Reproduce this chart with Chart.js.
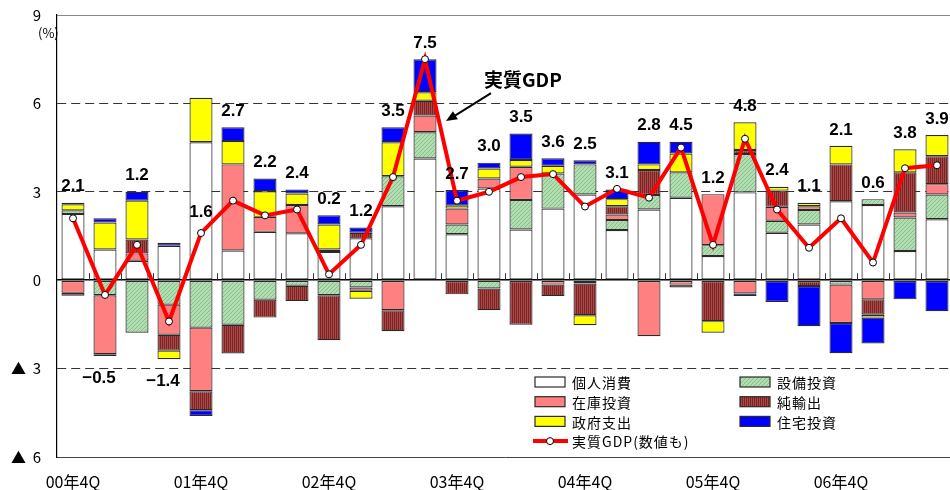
<!DOCTYPE html>
<html lang="ja">
<head>
<meta charset="utf-8">
<title>実質GDP成長率と需要項目別寄与度</title>
<script src="https://cdn.jsdelivr.net/npm/chart.js@4"></script>
<style>
    html, body { margin: 0; padding: 0; background: #fff; overflow: hidden; }
    #wrap { width: 958px; height: 490px; }
</style>
</head>
<body>
<div id="wrap"><canvas id="gdpChart" width="958" height="490"></canvas></div>
<script>
// Quarters (only the 4Q ones get a label on the axis)
const quarters = [
    '00年4Q', '01年1Q', '01年2Q', '01年3Q', '01年4Q', '02年1Q', '02年2Q',
    '02年3Q', '02年4Q', '03年1Q', '03年2Q', '03年3Q', '03年4Q', '04年1Q',
    '04年2Q', '04年3Q', '04年4Q', '05年1Q', '05年2Q', '05年3Q', '05年4Q',
    '06年1Q', '06年2Q', '06年3Q', '06年4Q', '07年1Q', '07年2Q', '07年3Q'
];

// Contributions by demand component (% points)
const consumption = [2.25, 1.04, 0.66, 1.17, 4.68, 1.01, 1.64, 1.59, 0.96, 1.42, 2.51, 4.13, 1.56, 3.11,
                     1.72, 2.43, 2.91, 1.70, 2.40, 2.80, 0.82, 2.98, 1.61, 1.89, 2.68, 2.55, 0.99, 2.07];
const capex       = [0.12, -0.51, -1.78, -0.83, -1.61, -1.51, -0.66, -0.19, -0.51, -0.25, 1.02, 0.89, 0.33, -0.28,
                     1.00, 1.19, 1.02, 0.34, 0.49, 0.86, 0.37, 1.30, 0.41, 0.49, -0.15, 0.20, 1.14, 0.84];
const inventory   = [-0.43, -2.00, 0.25, -1.02, -2.16, 2.92, 0.51, 0.96, 0.08, -0.11, -1.02, 0.57, 0.54, 0.34,
                     1.13, -0.15, -0.11, 0.19, -1.90, -0.15, 1.73, -0.45, 0.47, 0.13, -1.30, -0.65, 0.17, 0.35];
const netExports  = [-0.10, -0.06, 0.47, -0.54, -0.64, -0.98, -0.61, -0.52, -1.53, 0.19, -0.71, 0.50, -0.48, -0.74,
                     -1.51, -0.39, -1.08, 0.28, 0.85, -0.10, -1.39, 0.14, 0.55, -0.20, 1.25, -0.52, 1.36, 0.95];
const government  = [0.21, 0.92, 1.32, -0.29, 1.51, 0.79, 0.87, 0.39, 0.85, -0.27, 1.15, 0.29, 0.10, 0.34,
                     0.23, 0.26, -0.34, 0.24, 0.19, 0.64, -0.39, 0.94, 0.13, 0.12, 0.63, -0.10, 0.78, 0.72];
const housing     = [0.05, 0.14, 0.30, 0.10, -0.20, 0.47, 0.43, 0.14, 0.31, 0.18, 0.51, 1.12, 0.53, 0.20,
                     0.90, 0.26, 0.14, 0.33, 0.77, 0.40, 0.00, -0.09, -0.74, -1.36, -1.03, -0.88, -0.65, -1.05];

// Real GDP growth (annualised, %)
const realGdp = [2.1, -0.5, 1.2, -1.4, 1.6, 2.7, 2.2, 2.4, 0.2, 1.2, 3.5, 7.5, 2.7, 3.0,
                 3.5, 3.6, 2.5, 3.1, 2.8, 4.5, 1.2, 4.8, 2.4, 1.1, 2.1, 0.6, 3.8, 3.9];

const yTicks = [-6, -3, 0, 3, 6, 9];

const components = [consumption, capex, inventory, netExports, government, housing];

const JP_FONT = '"Noto Sans CJK JP", "Noto Sans", sans-serif';
const NUM_FONT = '"Liberation Sans", Arial, sans-serif';

// Small canvas patterns for the hatched bars
function makePattern(bg, fg, kind) {
    const c = document.createElement('canvas');
    c.width = 4;
    c.height = 4;
    const p = c.getContext('2d');
    p.fillStyle = bg;
    p.fillRect(0, 0, 4, 4);
    p.fillStyle = fg;
    p.strokeStyle = fg;
    if (kind === 'diag') {
        p.lineWidth = 1;
        p.beginPath();
        p.moveTo(0, 4);
        p.lineTo(4, 0);
        p.stroke();
    } else {
        p.fillRect(0, 0, 1, 4);
        p.fillRect(2, 0, 1, 4);
    }
    return p.createPattern(c, 'repeat');
}

const greenHatch = makePattern('#b2dcb2', '#86c086', 'diag');
const redStripe = makePattern('#a84848', '#7a2424', 'vert');

function barSet(label, data, color) {
    return {
        type: 'bar',
        label: label,
        data: data,
        backgroundColor: color,
        borderColor: '#2a2a2a',
        borderWidth: 1.2,
        borderSkipped: false,
        barPercentage: 0.72,
        categoryPercentage: 1,
        order: 1
    };
}

// Zero line tick marks between quarters
const zeroTicks = {
    id: 'zeroTicks',
    beforeDatasetsDraw(chart) {
        const { ctx, scales: { x, y } } = chart;
        const y0 = y.getPixelForValue(0);
        const half = (x.getPixelForValue(1) - x.getPixelForValue(0)) / 2;
        ctx.save();
        ctx.strokeStyle = '#333';
        ctx.lineWidth = 1;
        for (let i = 1; i < quarters.length; i++) {
            const px = Math.round(x.getPixelForValue(i) - half) + 0.5;
            ctx.beginPath();
            ctx.moveTo(px, y0);
            ctx.lineTo(px, y0 - 7);
            ctx.stroke();
        }
        ctx.restore();
    }
};

// GDP value labels, unit label, callout and legend
const annotations = {
    id: 'annotations',
    afterDatasetsDraw(chart) {
        const { ctx, scales: { x, y } } = chart;
        ctx.save();

        // GDP numbers
        ctx.font = 'bold 17px ' + NUM_FONT;
        ctx.fillStyle = '#000';
        ctx.textAlign = 'center';
        ctx.textBaseline = 'middle';
        realGdp.forEach((v, i) => {
            const parts = components.map(c => c[i]);
            const top = parts.filter(p => p > 0).reduce((a, b) => a + b, 0);
            const bottom = parts.filter(p => p < 0).reduce((a, b) => a + b, 0);
            const px = x.getPixelForValue(i);
            let py;
            let dx = 0;
            if (v < 0) {
                py = y.getPixelForValue(bottom) + 22;
                dx = -6;
            } else if (top - v > 3) {
                py = y.getPixelForValue(v) - 21;
            } else {
                py = Math.min(y.getPixelForValue(top), y.getPixelForValue(v)) - 16;
            }
            const txt = v < 0 ? '\u2212' + (-v).toFixed(1) : v.toFixed(1);
            ctx.fillText(txt, px + dx, py);
        });

        // unit
        ctx.font = '13px ' + JP_FONT;
        ctx.textAlign = 'left';
        ctx.fillText('(%)', 38, 33);

        // callout with arrow
        const tipX = x.getPixelForValue(11) + 21;
        const tipY = y.getPixelForValue(5.4);
        const tailX = tipX + 45;
        const tailY = tipY - 28;
        ctx.strokeStyle = '#000';
        ctx.lineWidth = 2;
        ctx.beginPath();
        ctx.moveTo(tailX, tailY);
        ctx.lineTo(tipX + 5, tipY - 3);
        ctx.stroke();
        const ang = Math.atan2(tipY - tailY, tipX - tailX);
        ctx.fillStyle = '#000';
        ctx.beginPath();
        ctx.moveTo(tipX, tipY);
        ctx.lineTo(tipX - 12 * Math.cos(ang - 0.4), tipY - 12 * Math.sin(ang - 0.4));
        ctx.lineTo(tipX - 12 * Math.cos(ang + 0.4), tipY - 12 * Math.sin(ang + 0.4));
        ctx.closePath();
        ctx.fill();
        ctx.font = 'bold 19px ' + JP_FONT;
        ctx.textBaseline = 'middle';
        ctx.fillText('実質GDP', tipX + 38, y.getPixelForValue(6.8));

        // legend, two columns
        ctx.font = '14px ' + JP_FONT;
        ctx.letterSpacing = '1px';
        chart.data.datasets.forEach((ds, i) => {
            const col = i % 2;
            const row = Math.floor(i / 2);
            const lx = 535 + col * 205;
            const ly = 382 + row * 19.7;
            if (ds.type === 'bar') {
                ctx.fillStyle = ds.backgroundColor;
                ctx.fillRect(lx, ly - 5, 30, 10);
                ctx.strokeStyle = '#2a2a2a';
                ctx.lineWidth = 1.2;
                ctx.strokeRect(lx, ly - 5, 30, 10);
            } else {
                ctx.strokeStyle = ds.borderColor;
                ctx.lineWidth = 4;
                ctx.beginPath();
                ctx.moveTo(lx - 2, ly);
                ctx.lineTo(lx + 33, ly);
                ctx.stroke();
                ctx.fillStyle = '#fff';
                ctx.strokeStyle = '#000';
                ctx.lineWidth = 1;
                ctx.beginPath();
                ctx.arc(lx + 15, ly, 3.5, 0, Math.PI * 2);
                ctx.fill();
                ctx.stroke();
            }
            ctx.fillStyle = '#000';
            ctx.fillText(ds.label, lx + 37, ly + 1);
        });
        ctx.restore();
    }
};

const ctx = document.getElementById('gdpChart').getContext('2d');
new Chart(ctx, {
    data: {
        labels: quarters,
        datasets: [
            barSet('個人消費', consumption, '#ffffff'),
            barSet('設備投資', capex, greenHatch),
            barSet('在庫投資', inventory, '#ff8080'),
            barSet('純輸出', netExports, redStripe),
            barSet('政府支出', government, '#ffff00'),
            barSet('住宅投資', housing, '#0000ff'),
            {
                type: 'line',
                label: '実質GDP(数値も)',
                data: realGdp,
                stack: 'gdp',
                borderColor: '#ff0000',
                borderWidth: 4,
                pointRadius: 3.5,
                pointBackgroundColor: '#ffffff',
                pointBorderColor: '#000000',
                pointBorderWidth: 1,
                tension: 0,
                order: 0
            }
        ]
    },
    options: {
        responsive: false,
        animation: false,
        layout: { padding: { top: 15, right: 2, bottom: 0, left: 0 } },
        plugins: {
            legend: { display: false },
            tooltip: { enabled: false }
        },
        scales: {
            x: {
                stacked: true,
                offset: true,
                grid: { display: false, drawTicks: false },
                border: { color: '#444', width: 1 },
                ticks: {
                    autoSkip: false,
                    maxRotation: 0,
                    padding: 15,
                    color: '#000',
                    font: { family: JP_FONT, size: 16 },
                    callback: function(value) {
                        const q = quarters[value];
                        return q.endsWith('4Q') ? q : '';
                    }
                },
                afterFit: function(scale) {
                    scale.height = 33;
                    scale.paddingLeft = 0;
                    scale.paddingRight = 0;
                }
            },
            y: {
                stacked: true,
                min: yTicks[0],
                max: yTicks[yTicks.length - 1],
                afterBuildTicks: function(scale) {
                    scale.ticks = yTicks.map(v => ({ value: v }));
                },
                grid: {
                    drawTicks: false,
                    color: function(c) {
                        const v = c.tick ? c.tick.value : null;
                        if (v === 0) return '#000';
                        if (v === 9) return '#888';
                        if (v === -6) return 'rgba(0,0,0,0)';
                        return '#333';
                    },
                    lineWidth: function(c) {
                        return c.tick && c.tick.value === 0 ? 1.5 : 1;
                    }
                },
                border: {
                    color: '#000',
                    width: 1.2,
                    dash: function(c) {
                        const v = c.tick ? c.tick.value : null;
                        return (v === 3 || v === 6 || v === -3) ? [9, 5] : [];
                    }
                },
                ticks: {
                    padding: 16,
                    color: '#000',
                    font: { family: JP_FONT, size: 15 },
                    callback: function(value) {
                        return value < 0 ? '▲  ' + (-value) : String(value);
                    }
                },
                afterFit: function(scale) {
                    scale.width = 57;
                    scale.paddingTop = 0;
                    scale.paddingBottom = 0;
                }
            }
        }
    },
    plugins: [zeroTicks, annotations]
});
</script>
</body>
</html>
